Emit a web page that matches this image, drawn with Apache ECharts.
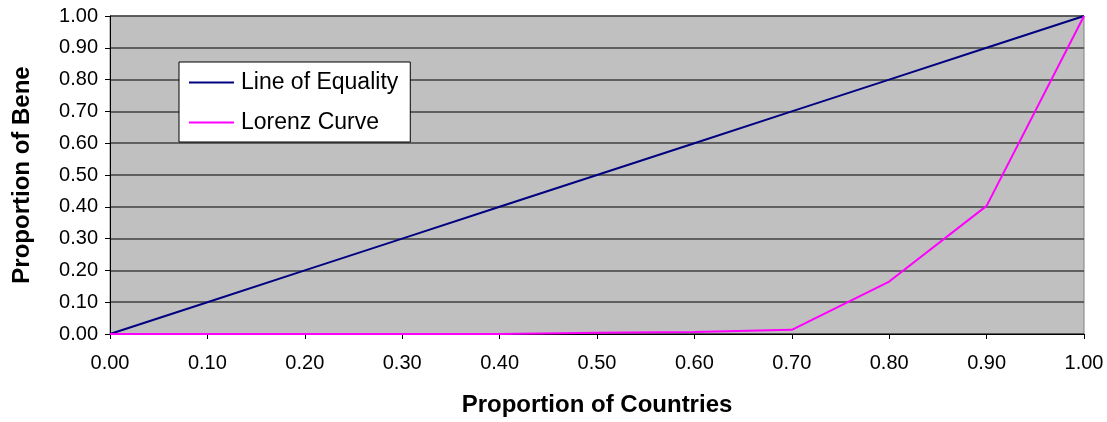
<!DOCTYPE html>
<html>
<head>
<meta charset="utf-8">
<script src="https://cdn.jsdelivr.net/npm/echarts@6/dist/echarts.min.js"></script>
<style>
  html, body { margin: 0; padding: 0; background: #fff; }
  #chart { width: 1107px; height: 422px; }
</style>
</head>
<body>
<div id="chart"></div>
<script>
// Proportion of countries (cumulative) on the x axis
const shares = [0.0, 0.1, 0.2, 0.3, 0.4, 0.5, 0.6, 0.7, 0.8, 0.9, 1.0];
// Perfect equality: benefit share equals country share
const equality = [0.0, 0.1, 0.2, 0.3, 0.4, 0.5, 0.6, 0.7, 0.8, 0.9, 1.0];
// Observed cumulative share of benefits
const lorenz = [0.0, 0.0, 0.0, 0.0, 0.0, 0.004, 0.006, 0.013, 0.165, 0.403, 1.0];

const seriesNames = ['Line of Equality', 'Lorenz Curve'];
const xTitle = 'Proportion of Countries';
const yTitle = 'Proportion of Bene';

const font = 'Arial, "Liberation Sans", sans-serif';

const pairs = (xs, ys) => xs.map((x, i) => [x, ys[i]]);

const chart = echarts.init(document.getElementById('chart'));
chart.setOption({
  animation: false,
  grid: {
    left: 110, right: 23, top: 16, bottom: 86,
    show: true,
    backgroundColor: '#C0C0C0',
    borderColor: '#808080',
    borderWidth: 1
  },
  legend: {
    orient: 'vertical',
    left: 179, top: 62,
    backgroundColor: '#fff',
    borderColor: '#000',
    borderWidth: 1,
    padding: [9, 12, 8, 10],
    itemWidth: 45,
    itemHeight: 2,
    itemGap: 17,
    icon: 'rect',
    textStyle: { fontFamily: font, fontSize: 23, color: '#000', padding: [0, 0, 0, 2] },
    data: seriesNames
  },
  xAxis: {
    type: 'value',
    min: 0, max: 1, interval: 0.1,
    name: xTitle,
    nameLocation: 'middle',
    nameGap: 59,
    nameTextStyle: { fontFamily: font, fontSize: 24, fontWeight: 'bold', color: '#000' },
    axisLine: { lineStyle: { color: '#000', width: 1 } },
    axisTick: { show: true, length: 5, lineStyle: { color: '#000' } },
    axisLabel: {
      fontFamily: font, fontSize: 20, color: '#000', margin: 19,
      formatter: v => v.toFixed(2)
    },
    splitLine: { show: false }
  },
  yAxis: {
    type: 'value',
    min: 0, max: 1, interval: 0.1,
    name: yTitle,
    nameLocation: 'middle',
    nameRotate: 90,
    nameGap: 76,
    nameTextStyle: { fontFamily: font, fontSize: 24, fontWeight: 'bold', color: '#000' },
    axisLine: { show: true, lineStyle: { color: '#000', width: 1 } },
    axisTick: { show: true, length: 5, lineStyle: { color: '#000' } },
    axisLabel: {
      fontFamily: font, fontSize: 20, color: '#000', margin: 12,
      formatter: v => v.toFixed(2)
    },
    splitLine: { show: true, lineStyle: { color: '#404040', width: 1.5 } }
  },
  series: [
    {
      name: seriesNames[0],
      type: 'line',
      data: pairs(shares, equality),
      showSymbol: false,
      lineStyle: { color: '#000080', width: 2 },
      itemStyle: { color: '#000080' },
      z: 3
    },
    {
      name: seriesNames[1],
      type: 'line',
      data: pairs(shares, lorenz),
      showSymbol: false,
      lineStyle: { color: '#FF00FF', width: 2 },
      itemStyle: { color: '#FF00FF' },
      z: 4
    }
  ]
});
</script>
</body>
</html>
